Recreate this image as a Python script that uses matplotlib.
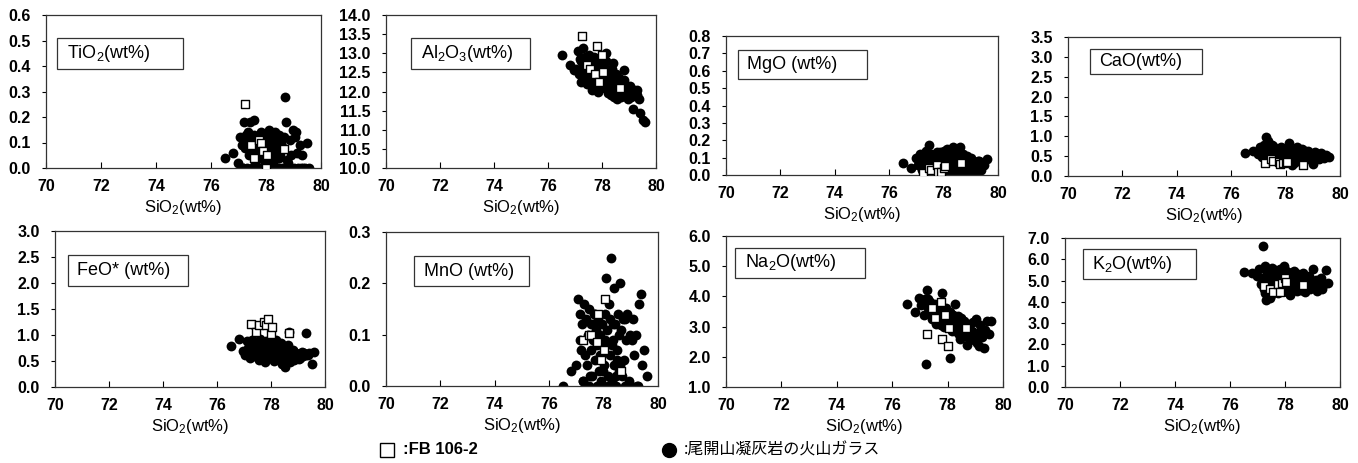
import numpy as np
import matplotlib
matplotlib.use('Agg')
import matplotlib.pyplot as plt
from matplotlib.patches import Rectangle
from matplotlib.lines import Line2D
from matplotlib.ticker import FormatStrFormatter

plt.rcParams['font.family'] = ['Liberation Sans', 'DejaVu Sans']
plt.rcParams['mathtext.default'] = 'regular'

# volcanic glass of the tuff (filled circles)
glass_si = [76.52, 76.81, 76.98, 77.05, 77.12, 77.15, 77.21, 77.24, 77.28, 77.31,
            77.35, 77.38, 77.42, 77.45, 77.48, 77.52, 77.55, 77.58, 77.62, 77.65,
            77.68, 77.71, 77.74, 77.77, 77.80, 77.83, 77.86, 77.89, 77.92, 77.95,
            77.98, 78.01, 78.04, 78.07, 78.10, 78.13, 78.16, 78.19, 78.22, 78.25,
            78.28, 78.31, 78.34, 78.37, 78.40, 78.43, 78.46, 78.49, 78.52, 78.55,
            78.58, 78.62, 78.66, 78.70, 78.74, 78.78, 78.82, 78.87, 78.92, 78.97,
            79.02, 79.08, 79.13, 79.18, 79.24, 79.30, 79.36, 79.42, 79.50, 79.58,
            77.18, 77.36, 77.50, 77.70, 77.85, 78.05, 78.24, 78.36, 78.48, 78.64,
            77.26, 77.60, 77.96, 78.15, 78.30, 78.44, 78.60, 78.80, 79.05, 79.28]
glass_ti = [0.04, 0.06, 0.02, 0.12, 0.09, 0.00, 0.18, 0.08, 0.13, 0.00,
            0.11, 0.05, 0.18, 0.07, 0.00, 0.10, 0.13, 0.19, 0.03, 0.08,
            0.12, 0.00, 0.06, 0.10, 0.14, 0.04, 0.09, 0.00, 0.11, 0.07,
            0.02, 0.13, 0.08, 0.00, 0.15, 0.05, 0.10, 0.00, 0.12, 0.06,
            0.09, 0.00, 0.14, 0.04, 0.11, 0.07, 0.00, 0.13, 0.05, 0.10,
            0.00, 0.08, 0.12, 0.28, 0.18, 0.03, 0.00, 0.11, 0.05, 0.15,
            0.00, 0.14, 0.06, 0.00, 0.09, 0.05, 0.00, 0.00, 0.10, 0.00,
            0.00, 0.14, 0.06, 0.00, 0.09, 0.03, 0.07, 0.00, 0.04, 0.00,
            0.10, 0.02, 0.06, 0.11, 0.03, 0.00, 0.08, 0.02, 0.12, 0.00]
glass_al = [12.95, 12.70, 12.55, 12.60, 13.05, 12.45, 12.25, 12.80, 13.15, 12.65,
            12.40, 12.90, 12.55, 12.20, 12.75, 12.95, 12.35, 12.60, 12.05, 12.80,
            12.45, 12.15, 12.70, 12.55, 12.85, 12.30, 12.00, 12.65, 12.40, 12.75,
            12.20, 12.55, 12.90, 12.35, 12.10, 12.60, 13.00, 12.25, 11.95, 12.45,
            12.15, 12.40, 11.90, 12.30, 12.75, 12.05, 11.85, 12.25, 12.45, 11.80,
            12.10, 12.35, 11.95, 11.85, 12.20, 12.05, 12.55, 11.90, 12.15, 11.80,
            12.00, 11.85, 11.55, 12.05, 11.95, 12.05, 11.80, 11.45, 11.25, 11.20,
            12.85, 12.70, 12.50, 12.90, 12.45, 12.75, 12.50, 12.60, 12.15, 12.30,
            12.50, 12.35, 12.10, 12.80, 12.55, 12.35, 11.85, 12.30, 12.15, 11.90]
glass_mg = [0.07, 0.04, 0.10, 0.06, 0.12, 0.09, 0.03, 0.11, 0.08, 0.05,
            0.13, 0.07, 0.10, 0.04, 0.17, 0.08, 0.12, 0.06, 0.09, 0.02,
            0.11, 0.05, 0.08, 0.13, 0.03, 0.10, 0.07, 0.12, 0.04, 0.09,
            0.06, 0.14, 0.02, 0.10, 0.08, 0.15, 0.05, 0.12, 0.00, 0.09,
            0.13, 0.04, 0.16, 0.07, 0.10, 0.02, 0.11, 0.06, 0.14, 0.03,
            0.09, 0.16, 0.05, 0.12, 0.00, 0.08, 0.04, 0.11, 0.06, 0.02,
            0.10, 0.04, 0.07, 0.00, 0.05, 0.08, 0.03, 0.05, 0.06, 0.09,
            0.10, 0.14, 0.05, 0.09, 0.13, 0.07, 0.03, 0.10, 0.00, 0.12,
            0.06, 0.11, 0.09, 0.04, 0.08, 0.12, 0.07, 0.00, 0.04, 0.08]
glass_ca = [0.57, 0.62, 0.55, 0.72, 0.48, 0.65, 0.78, 0.52, 0.97, 0.60,
            0.88, 0.45, 0.70, 0.58, 0.66, 0.40, 0.75, 0.53, 0.62, 0.47,
            0.68, 0.55, 0.42, 0.63, 0.50, 0.72, 0.38, 0.58, 0.46, 0.65,
            0.52, 0.60, 0.35, 0.70, 0.45, 0.82, 0.55, 0.48, 0.62, 0.40,
            0.58, 0.32, 0.66, 0.50, 0.44, 0.72, 0.55, 0.38, 0.62, 0.48,
            0.54, 0.68, 0.42, 0.58, 0.50, 0.45, 0.62, 0.55, 0.40, 0.52,
            0.30, 0.60, 0.48, 0.55, 0.42, 0.57, 0.50, 0.45, 0.52, 0.47,
            0.62, 0.50, 0.78, 0.45, 0.60, 0.52, 0.28, 0.56, 0.47, 0.65,
            0.44, 0.68, 0.52, 0.40, 0.50, 0.60, 0.34, 0.50, 0.58, 0.45]
glass_fe = [0.78, 0.93, 0.70, 0.62, 0.88, 0.75, 0.55, 0.82, 0.68, 0.90,
            0.72, 1.20, 0.60, 0.85, 0.65, 0.78, 0.52, 0.92, 0.70, 0.58,
            0.80, 0.63, 0.75, 0.48, 0.88, 0.67, 0.72, 0.57, 0.82, 0.60,
            0.70, 0.55, 0.85, 0.65, 0.50, 0.77, 0.62, 0.90, 0.58, 0.68,
            0.52, 0.73, 0.62, 0.85, 0.45, 0.67, 0.57, 0.78, 0.38, 0.63,
            0.70, 0.55, 1.05, 0.48, 0.65, 0.60, 0.72, 0.52, 0.66, 0.58,
            0.62, 0.55, 0.68, 0.60, 0.65, 1.03, 0.62, 0.66, 0.45, 0.68,
            0.73, 0.66, 0.80, 0.62, 0.55, 0.60, 0.75, 0.50, 0.70, 0.80,
            0.60, 0.68, 0.62, 0.72, 0.56, 0.64, 0.48, 0.70, 0.54, 0.62]
glass_mn = [0.00, 0.03, 0.04, 0.17, 0.09, 0.14, 0.12, 0.01, 0.16, 0.06,
            0.13, 0.04, 0.10, 0.00, 0.15, 0.07, 0.12, 0.02, 0.09, 0.14,
            0.05, 0.11, 0.00, 0.08, 0.13, 0.03, 0.10, 0.01, 0.06, 0.12,
            0.00, 0.04, 0.14, 0.08, 0.21, 0.11, 0.02, 0.16, 0.06, 0.13,
            0.25, 0.01, 0.09, 0.19, 0.04, 0.12, 0.00, 0.07, 0.14, 0.03,
            0.10, 0.20, 0.02, 0.13, 0.05, 0.00, 0.09, 0.14, 0.01, 0.10,
            0.00, 0.13, 0.06, 0.10, 0.00, 0.16, 0.18, 0.04, 0.07, 0.02,
            0.07, 0.00, 0.02, 0.14, 0.06, 0.09, 0.00, 0.12, 0.05, 0.11,
            0.01, 0.12, 0.03, 0.00, 0.08, 0.02, 0.04, 0.13, 0.09, 0.00]
glass_na = [3.75, 3.50, 3.95, 3.70, 3.85, 3.40, 1.75, 4.20, 3.60, 3.90,
            3.45, 3.80, 3.25, 3.65, 3.55, 3.30, 3.75, 3.10, 3.50, 3.35,
            3.60, 3.20, 3.45, 3.05, 4.10, 3.35, 3.00, 3.55, 3.25, 3.40,
            3.15, 3.30, 2.95, 3.50, 1.95, 3.20, 2.85, 3.40, 3.05, 3.25,
            3.75, 2.90, 3.10, 3.35, 2.75, 3.15, 2.95, 3.25, 2.80, 3.05,
            3.20, 2.70, 3.00, 2.40, 2.90, 3.10, 2.65, 2.85, 3.15, 2.55,
            3.25, 2.80, 2.35, 3.05, 2.65, 2.30, 2.90, 3.20, 2.75, 3.20,
            3.90, 3.60, 3.40, 3.70, 3.20, 3.45, 3.00, 2.80, 3.30, 2.95,
            3.80, 3.30, 3.60, 3.00, 3.20, 2.60, 2.95, 2.70, 2.45, 2.85]
glass_k = [5.40, 5.35, 5.20, 5.55, 4.85, 5.10, 6.62, 4.60, 5.70, 4.10,
           5.30, 4.75, 5.45, 4.20, 5.05, 5.60, 4.50, 5.25, 4.90, 5.50,
           4.65, 5.15, 4.40, 5.35, 4.95, 5.55, 4.55, 5.10, 4.80, 5.30,
           5.70, 4.70, 5.20, 4.45, 5.40, 4.85, 5.10, 4.30, 5.25, 4.90,
           5.05, 4.60, 5.45, 4.80, 5.15, 4.50, 5.30, 4.95, 4.70, 5.20,
           4.55, 5.00, 5.35, 4.75, 4.45, 5.10, 4.85, 5.20, 4.60, 4.95,
           5.55, 4.70, 5.05, 4.50, 4.80, 5.10, 4.60, 4.85, 5.50, 4.90,
           5.00, 5.45, 4.30, 5.25, 5.50, 5.05, 4.75, 5.35, 4.90, 5.15,
           4.40, 4.95, 5.60, 5.00, 4.65, 5.30, 4.55, 4.70, 4.75, 5.05]

# FB 106-2 (open squares)
fb_si = [77.25, 77.45, 77.55, 77.75, 77.80, 77.90, 78.00, 78.05, 78.65]
fb_ti = [0.25, 0.09, 0.04, 0.11, 0.10, 0.065, 0.00, 0.05, 0.075]
fb_al = [13.45, 12.70, 12.60, 12.45, 13.20, 12.25, 12.95, 12.50, 12.10]
fb_mg = [0.01, 0.04, 0.03, 0.06, 0.015, 0.02, 0.04, 0.05, 0.07]
fb_ca = [0.32, 0.43, 0.38, 0.34, 0.30, 0.33, 0.36, 0.35, 0.28]
fb_fe = [1.22, 1.05, 1.20, 1.25, 1.20, 1.30, 1.02, 1.15, 1.03]
fb_mn = [0.09, 0.10, 0.10, 0.085, 0.14, 0.05, 0.07, 0.17, 0.03]
fb_na = [2.75, 3.60, 3.30, 3.80, 2.60, 3.40, 2.35, 2.95, 2.95]
fb_k = [4.75, 4.60, 4.45, 4.85, 4.45, 4.90, 5.10, 4.95, 4.80]

labels = ['TiO$_2$(wt%)', 'Al$_2$O$_3$(wt%)', 'MgO (wt%)', 'CaO(wt%)',
          'FeO* (wt%)', 'MnO (wt%)', 'Na$_2$O(wt%)', 'K$_2$O(wt%)']
ylims = [(0, 0.6, 0.1), (10, 14, 0.5), (0, 0.8, 0.1), (0, 3.5, 0.5),
         (0, 3.0, 0.5), (0, 0.3, 0.1), (1, 6, 1), (0, 7, 1)]
glass = [glass_ti, glass_al, glass_mg, glass_ca, glass_fe, glass_mn, glass_na, glass_k]
fb = [fb_ti, fb_al, fb_mg, fb_ca, fb_fe, fb_mn, fb_na, fb_k]

# axes rectangles in pixels: left, top, right, bottom
W, H = 1358, 463
ax_px = [(46, 15, 321, 168), (386, 15, 656, 168), (726, 36, 998, 175), (1068, 37, 1340, 176),
         (55, 231, 325, 387), (386, 232, 658, 386), (726, 236, 1003, 387), (1065, 238, 1340, 387)]
# label boxes in axes fraction: x, y, w, h
box_fr = [(0.04, 0.647, 0.458, 0.203), (0.093, 0.647, 0.44, 0.203),
          (0.044, 0.69, 0.474, 0.209), (0.081, 0.734, 0.412, 0.18),
          (0.048, 0.647, 0.444, 0.2), (0.103, 0.649, 0.423, 0.195),
          (0.032, 0.722, 0.469, 0.2), (0.065, 0.725, 0.411, 0.2)]

fig = plt.figure(figsize=(W / 100, H / 100), dpi=100)

for i in range(8):
    l, t, r, b = ax_px[i]
    ax = fig.add_axes([l / W, 1 - b / H, (r - l) / W, (b - t) / H])
    ax.scatter(glass_si, glass[i], s=50, c='black', marker='o', linewidths=0, zorder=2)
    ax.scatter(fb_si, fb[i], s=34, facecolors='white', edgecolors='black',
               marker='s', linewidths=1.0, zorder=3)
    lo, hi, st = ylims[i]
    ax.set_xlim(70, 80)
    ax.set_ylim(lo, hi)
    ax.set_xticks(np.arange(70, 81, 2))
    ax.set_yticks(np.arange(lo, hi + st / 2, st))
    ax.yaxis.set_major_formatter(FormatStrFormatter('%.1f'))
    ax.tick_params(axis='x', direction='in', length=4, width=0.8, labelsize=11.5, pad=8)
    ax.tick_params(axis='y', direction='out', length=3, width=0.8, labelsize=11.5, pad=8)
    for lab in ax.get_xticklabels() + ax.get_yticklabels():
        lab.set_fontweight('bold')
    for sp in ax.spines.values():
        sp.set_linewidth(0.9)
        sp.set_color('#333333')
    ax.set_xlabel('SiO$_2$(wt%)', fontsize=12, labelpad=3)
    bx, by, bw, bh = box_fr[i]
    ax.add_patch(Rectangle((bx, by), bw, bh, transform=ax.transAxes, fill=False,
                           edgecolor='#333333', linewidth=0.9, zorder=4))
    ax.text(bx + 0.035, by + bh / 2, labels[i], transform=ax.transAxes,
            fontsize=13, va='center', ha='left', zorder=5)

# legend row at the bottom
fig.add_artist(Line2D([387 / W], [1 - 450 / H], transform=fig.transFigure, marker='s',
                      markersize=10, markerfacecolor='white', markeredgecolor='black',
                      markeredgewidth=1.0, linestyle='none'))
fig.text(403 / W, 1 - 450 / H, ':FB 106-2', fontsize=12, fontweight='bold',
         va='center', ha='left')
fig.add_artist(Line2D([669 / W], [1 - 450 / H], transform=fig.transFigure, marker='o',
                      markersize=10, markerfacecolor='black', markeredgecolor='black',
                      linestyle='none'))
fig.text(684 / W, 1 - 450 / H, ':尾開山凝灰岩の火山ガラス', fontsize=11.5,
         family=['Noto Sans CJK JP', 'DejaVu Sans'], va='center', ha='left')

fig.savefig('out.png', dpi=100)
